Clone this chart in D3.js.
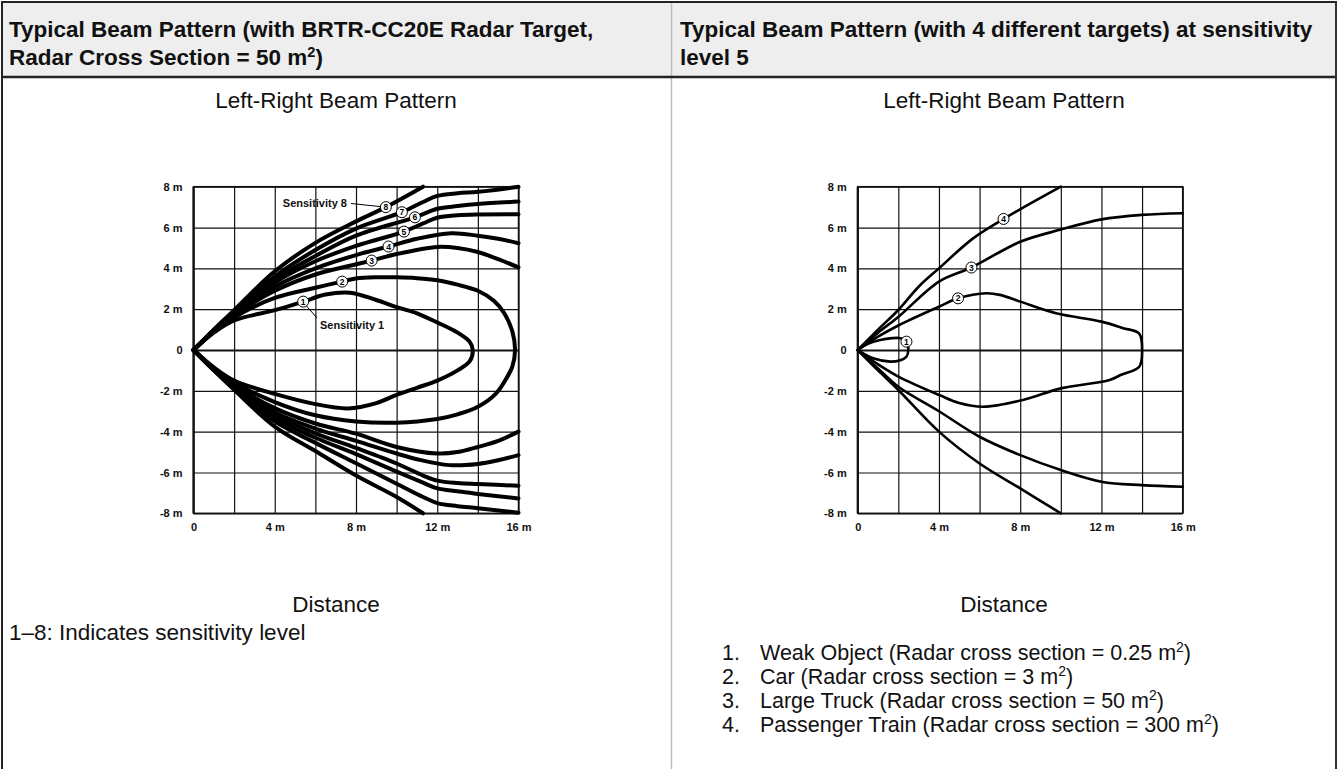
<!DOCTYPE html>
<html>
<head>
<meta charset="utf-8">
<script src="https://cdn.jsdelivr.net/npm/d3@7"></script>
<style>
  body { margin: 0; background: #fff; }
  svg { display: block; font-family: "Liberation Sans", Arial, sans-serif; }
</style>
</head>
<body>
<div id="chart"></div>
<script>
// distance (m) on x, left-right offset (m) on y
const xTickValues = [0, 4, 8, 12, 16];
const yTickValues = [8, 6, 4, 2, 0, -2, -4, -6, -8];

// left panel: sensitivity levels 1-8 (closed shapes for 1 and 2)
const sens1 = [[0,0],[1,0.85],[2,1.45],[4,1.95],[5.4,2.37],[6.5,2.72],[7.7,2.81],[9,2.45],[10,2.1],[11,1.8],[12,1.35],[13,0.85],[13.6,0.4],[13.75,0],
  [13.6,-0.55],[13,-1.0],[12,-1.5],[11,-1.85],[10,-2.2],[9,-2.6],[7.6,-2.86],[6,-2.65],[4,-2.15],[2,-1.5],[1,-0.85],[0,0]];
const sens2 = [[0,0],[1,0.9],[2,1.6],[4,2.55],[6,3.05],[7.3,3.35],[8,3.5],[9,3.56],[10,3.56],[11,3.52],[12,3.42],[13,3.2],[14,2.9],[14.8,2.4],[15.3,1.8],[15.7,0.9],[15.83,0],
  [15.7,-0.8],[15.4,-1.4],[14.9,-2.12],[14,-2.78],[13,-3.15],[12,-3.38],[10,-3.56],[8,-3.5],[6,-3.2],[4,-2.55],[2,-1.6],[1,-0.9],[0,0]];
const sens3Up = [[0,0],[1,0.92],[2,1.7],[4,2.9],[6,3.7],[8,4.2],[8.77,4.38],[10,4.7],[12,5.05],[13,5.0],[14,4.8],[15,4.45],[16,4.05]];
const sens3Lo = [[0,0],[1,-0.92],[2,-1.7],[4,-2.85],[6,-3.6],[8,-4.1],[10,-4.75],[12,-5.07],[13,-5.0],[14,-4.75],[15,-4.45],[16,-4.0]];
const sens4Up = [[0,0],[1,0.94],[2,1.75],[4,3.1],[6,4.0],[8,4.65],[9.6,5.07],[11,5.45],[12.7,5.72],[14,5.6],[15,5.45],[16,5.23]];
const sens4Lo = [[0,0],[1,-0.94],[2,-1.75],[4,-3.05],[6,-3.85],[8,-4.45],[10,-5.07],[11,-5.35],[12.6,-5.64],[14,-5.58],[15,-5.4],[16,-5.15]];
const sens5Up = [[0,0],[1,0.96],[2,1.8],[4,3.3],[6,4.35],[8,5.1],[10.36,5.8],[11.3,6.2],[12,6.48],[13,6.6],[14,6.64],[16,6.65]];
const sens5Lo = [[0,0],[1,-0.96],[2,-1.8],[4,-3.2],[6,-4.08],[8,-4.8],[10,-5.56],[11.3,-6.15],[12,-6.4],[13,-6.52],[14,-6.57],[16,-6.65]];
const sens6Up = [[0,0],[1,0.97],[2,1.85],[4,3.45],[6,4.6],[8,5.6],[10.9,6.5],[12,6.92],[13,7.05],[14,7.15],[16,7.27]];
const sens6Lo = [[0,0],[1,-0.97],[2,-1.85],[4,-3.35],[6,-4.3],[8,-5.1],[10,-5.96],[11.3,-6.5],[12,-6.78],[13,-6.92],[14,-7.05],[16,-7.27]];
const sens7Up = [[0,0],[1,0.98],[2,1.9],[4,3.6],[6,4.9],[8,5.95],[10.26,6.75],[11.3,7.25],[12,7.55],[13,7.68],[14,7.75],[16,8.0]];
const sens7Lo = [[0,0],[1,-0.98],[2,-1.9],[4,-3.5],[6,-4.55],[8,-5.55],[10,-6.55],[11.3,-7.2],[12,-7.5],[13,-7.65],[14,-7.75],[16,-7.97]];
const sens8Up = [[0,0],[1,1.0],[2,1.95],[4,3.85],[6,5.25],[8,6.3],[9.47,7.0],[11.3,8.0]];
const sens8Lo = [[0,0],[1,-1.0],[2,-1.95],[4,-3.75],[6,-4.95],[8,-6.15],[10,-7.2],[11.3,-8.0]];
const sensLabels = [[1,5.4,2.37],[2,7.32,3.35],[3,8.77,4.38],[4,9.6,5.07],[5,10.36,5.8],[6,10.9,6.5],[7,10.26,6.75],[8,9.47,7.0]];

// right panel: four targets at sensitivity 5
const target1 = [[0,0],[0.5,0.3],[1.1,0.49],[1.7,0.58],[2.1,0.58],[2.4,0.45],[2.49,0],[2.4,-0.33],[2.1,-0.5],[1.6,-0.57],[0.8,-0.42],[0,0]];
const target2 = [[0,0],[1,0.65],[2,1.2],[4,2.12],[4.94,2.53],[6.33,2.78],[7,2.7],[8,2.37],[9.77,1.8],[12,1.39],[13.04,1.08],[13.86,0.8],[14,0],
  [13.86,-0.82],[13,-1.2],[12.4,-1.47],[10,-1.88],[8.13,-2.45],[6.17,-2.78],[5,-2.6],[4,-2.2],[2,-1.3],[1,-0.7],[0,0]];
const target3Up = [[0,0],[1,0.85],[2,1.62],[4,3.35],[5.6,4.04],[8,5.3],[10,5.9],[12,6.4],[14,6.62],[16,6.7]];
const target3Lo = [[0,0],[1,-0.9],[2,-1.8],[4,-3.0],[6,-4.25],[8,-5.15],[10,-5.88],[12,-6.45],[14,-6.62],[16,-6.7]];
const target4Up = [[0,0],[1,1.0],[2,1.96],[3,3.1],[4,4.0],[5.68,5.47],[7.18,6.42],[10,8.0]];
const target4Lo = [[0,0],[1,-1.0],[2,-1.96],[4,-4.0],[6,-5.56],[8,-6.78],[10,-8.0]];
const targetLabels = [[1,2.4,0.41],[2,4.94,2.53],[3,5.6,4.04],[4,7.18,6.42]];

const targetNotes = [
  ["1.", "Weak Object (Radar cross section = 0.25 m"],
  ["2.", "Car (Radar cross section = 3 m"],
  ["3.", "Large Truck (Radar cross section = 50 m"],
  ["4.", "Passenger Train (Radar cross section = 300 m"]
];

const W = 1338, H = 769;
const HDR = 22.5, BODY = 22.5, LIST = 21.5;
const svg = d3.select("#chart").append("svg").attr("width", W).attr("height", H);

// table frame
svg.append("rect").attr("x", 2).attr("y", 2).attr("width", 1334).attr("height", 75).attr("fill", "#eeeeee");
svg.append("line").attr("x1", 671.5).attr("x2", 671.5).attr("y1", 2).attr("y2", H).attr("stroke", "#bdbdbd").attr("stroke-width", 1.5);
svg.append("line").attr("x1", 1).attr("x2", 1337).attr("y1", 2).attr("y2", 2).attr("stroke", "#222").attr("stroke-width", 2);
svg.append("line").attr("x1", 1).attr("x2", 1337).attr("y1", 77).attr("y2", 77).attr("stroke", "#222").attr("stroke-width", 2.5);
svg.append("line").attr("x1", 2).attr("x2", 2).attr("y1", 1).attr("y2", H).attr("stroke", "#222").attr("stroke-width", 2);
svg.append("line").attr("x1", 1336).attr("x2", 1336).attr("y1", 1).attr("y2", H).attr("stroke", "#333").attr("stroke-width", 2);

// text with a superscript "2" and closing bracket
function withSup(sel, main, size) {
  sel.append("tspan").text(main);
  sel.append("tspan").attr("font-size", size * 0.65).attr("dy", -size * 0.35).text("2");
  sel.append("tspan").attr("dy", size * 0.35).text(")");
}

svg.append("text").attr("x", 9).attr("y", 37).attr("font-size", HDR).attr("font-weight", "bold").attr("fill", "#111")
  .text("Typical Beam Pattern (with BRTR-CC20E Radar Target,");
withSup(svg.append("text").attr("x", 9).attr("y", 65).attr("font-size", HDR).attr("font-weight", "bold").attr("fill", "#111"),
  "Radar Cross Section = 50 m", HDR);
svg.append("text").attr("x", 680).attr("y", 37).attr("font-size", HDR).attr("font-weight", "bold").attr("fill", "#111")
  .text("Typical Beam Pattern (with 4 different targets) at sensitivity");
svg.append("text").attr("x", 680).attr("y", 65).attr("font-size", HDR).attr("font-weight", "bold").attr("fill", "#111")
  .text("level 5");

const line = d3.line().curve(d3.curveCatmullRom.alpha(0.5));

function panel(left, curves, labels, lw, cx) {
  const x = d3.scaleLinear().domain([0, 16]).range([left, left + 325]);
  const y = d3.scaleLinear().domain([-8, 8]).range([513.3, 186.7]);
  const g = svg.append("g");

  g.append("text").attr("x", cx).attr("y", 108).attr("text-anchor", "middle").attr("font-size", BODY).attr("fill", "#111")
    .text("Left-Right Beam Pattern");
  g.append("text").attr("x", cx).attr("y", 612).attr("text-anchor", "middle").attr("font-size", BODY).attr("fill", "#111")
    .text("Distance");

  const xa = g.append("g").attr("transform", `translate(0,${y(-8)})`)
    .call(d3.axisBottom(x).tickValues(d3.range(0, 17, 2)).tickSize(-(y(-8) - y(8))).tickPadding(10)
      .tickFormat(d => xTickValues.includes(d) ? (d === 0 ? "0" : d + " m") : ""));
  const ya = g.append("g").attr("transform", `translate(${x(0)},0)`)
    .call(d3.axisLeft(y).tickValues(yTickValues).tickSize(-(x(16) - x(0))).tickPadding(11)
      .tickFormat(d => d === 0 ? "0" : d + " m"));
  [xa, ya].forEach(a => {
    a.select(".domain").remove();
    a.selectAll(".tick line").attr("stroke", "#111").attr("stroke-width", 1.2);
    a.selectAll(".tick text").attr("fill", "#111").attr("font-size", 11).attr("font-weight", "bold")
      .attr("font-family", "'Liberation Sans', Arial, sans-serif");
  });
  ya.selectAll(".tick").filter(d => d === 0).select("line").attr("stroke-width", 2);

  g.append("rect").attr("x", x(0)).attr("y", y(8)).attr("width", x(16) - x(0)).attr("height", y(-8) - y(8))
    .attr("fill", "none").attr("stroke", "#111").attr("stroke-width", 1.5);
  g.append("line").attr("x1", x(0)).attr("x2", x(0)).attr("y1", y(8)).attr("y2", y(-8)).attr("stroke", "#111").attr("stroke-width", 2);

  curves.forEach(c => {
    g.append("path").attr("d", line(c.map(p => [x(p[0]), y(p[1])])))
      .attr("fill", "none").attr("stroke", "#000").attr("stroke-width", lw)
      .attr("stroke-linejoin", "round").attr("stroke-linecap", "round");
  });
  return { g, x, y, labels };
}

function badges(p) {
  const b = p.g.selectAll("g.badge").data(p.labels).join("g").attr("class", "badge")
    .attr("transform", d => `translate(${p.x(d[1])},${p.y(d[2])})`);
  b.append("circle").attr("r", 5.5).attr("fill", "#fff").attr("stroke", "#000").attr("stroke-width", 1);
  b.append("text").attr("text-anchor", "middle").attr("dy", 3).attr("font-size", 8.5).attr("font-weight", "bold")
    .attr("fill", "#000").text(d => d[0]);
}

const pL = panel(193.5, [sens1, sens2, sens3Up, sens3Lo, sens4Up, sens4Lo, sens5Up, sens5Lo, sens6Up, sens6Lo, sens7Up, sens7Lo, sens8Up, sens8Lo], sensLabels, 4, 336);
// callouts
pL.g.append("line").attr("x1", 351).attr("y1", 203.5).attr("x2", pL.x(9.47) - 5).attr("y2", pL.y(7.0) - 0.5).attr("stroke", "#000").attr("stroke-width", 1);
pL.g.append("text").attr("x", 347).attr("y", 207).attr("text-anchor", "end").attr("font-size", 11).attr("font-weight", "bold").attr("fill", "#111").text("Sensitivity 8");
pL.g.append("line").attr("x1", pL.x(5.4) + 3).attr("y1", pL.y(2.37) + 4).attr("x2", 317).attr("y2", 318).attr("stroke", "#000").attr("stroke-width", 1);
pL.g.append("text").attr("x", 320).attr("y", 329).attr("font-size", 11).attr("font-weight", "bold").attr("fill", "#111").text("Sensitivity 1");
badges(pL);

const pR = panel(857.7, [target1, target2, target3Up, target3Lo, target4Up, target4Lo], targetLabels, 2.6, 1004);
badges(pR);

// notes
svg.append("text").attr("x", 9).attr("y", 640).attr("font-size", BODY).attr("fill", "#111").text("1–8: Indicates sensitivity level");
targetNotes.forEach((n, i) => {
  const yy = 660 + i * 24;
  svg.append("text").attr("x", 722).attr("y", yy).attr("font-size", LIST).attr("fill", "#111").text(n[0]);
  withSup(svg.append("text").attr("x", 760).attr("y", yy).attr("font-size", LIST).attr("fill", "#111"), n[1], LIST);
});
</script>
</body>
</html>
